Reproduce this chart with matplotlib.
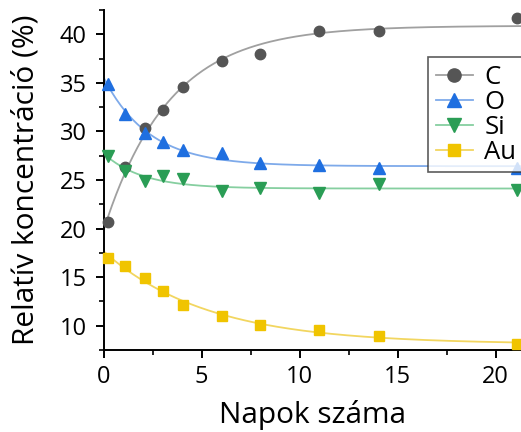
import numpy as np
import matplotlib
matplotlib.use('Agg')
import matplotlib.pyplot as plt
from matplotlib.ticker import MultipleLocator

plt.rcParams['font.family'] = ['Open Sans', 'DejaVu Sans']

# days of exposure
days = [0.25, 1.1, 2.1, 3.05, 4.05, 6.05, 8.0, 11.0, 14.05, 21.1]

# relative concentration (%)
c_vals = [20.7, 26.3, 30.4, 32.2, 34.6, 37.2, 38.0, 40.3, 40.3, 41.7]
o_vals = [34.9, 31.8, 29.8, 28.9, 28.1, 27.8, 26.7, 26.5, 26.2, 26.2]
si_vals = [27.5, 25.9, 24.9, 25.4, 25.1, 23.9, 24.2, 23.7, 24.6, 24.0]
au_vals = [16.95, 16.1, 14.9, 13.6, 12.1, 11.0, 10.1, 9.55, 8.95, 8.1]

labels = ['C', 'O', 'Si', 'Au']
markers = ['o', '^', 'v', 's']
marker_sizes = [7.5, 8.5, 8.5, 6.5]
marker_colors = ['#555555', '#1f6fe0', '#2a9d55', '#f0c400']
line_colors = ['#a0a0a0', '#7eaaea', '#86cfa0', '#f2d660']


def exp_fit(x, y):
    # y = a + b*exp(-x/t), scan t and solve a, b by least squares
    x = np.asarray(x)
    y = np.asarray(y)
    best = None
    for t in np.linspace(0.5, 20, 400):
        A = np.column_stack([np.ones_like(x), np.exp(-x / t)])
        coef, res, _, _ = np.linalg.lstsq(A, y, rcond=None)
        err = np.sum((A @ coef - y) ** 2)
        if best is None or err < best[0]:
            best = (err, coef, t)
    _, (a, b), t = best
    return lambda xx: a + b * np.exp(-xx / t)


fig = plt.figure(figsize=(5.21, 4.32), dpi=100)
ax = fig.add_axes([103.5 / 521, 1 - 350 / 432, 1 - 103.5 / 521, 340 / 432])

xs = np.linspace(0, 21.6, 300)
for vals, lab, m, ms, mc, lc in zip([c_vals, o_vals, si_vals, au_vals], labels,
                                     markers, marker_sizes, marker_colors, line_colors):
    f = exp_fit(days, vals)
    ax.plot(xs, f(xs), color=lc, lw=1.3, zorder=2)
    ax.plot(days, vals, linestyle='none', marker=m, ms=ms, color=mc, zorder=3, clip_on=False)
    # proxy handle for legend: line + marker
    ax.plot([], [], color=lc, lw=1.3, marker=m, ms=ms + 2, markerfacecolor=mc,
            markeredgecolor=mc, label=lab)

ax.set_xlim(0, 21.3)
ax.set_ylim(7.5, 42.5)
ax.xaxis.set_major_locator(MultipleLocator(5))
ax.xaxis.set_minor_locator(MultipleLocator(2.5))
ax.yaxis.set_major_locator(MultipleLocator(5))
ax.yaxis.set_minor_locator(MultipleLocator(2.5))

for side in ['top', 'right']:
    ax.spines[side].set_visible(False)
for side in ['left', 'bottom']:
    ax.spines[side].set_linewidth(1.4)

ax.tick_params(which='major', direction='out', length=6, width=1.4, labelsize=17)
ax.tick_params(axis='y', which='major', pad=6)
ax.tick_params(axis='x', which='major', pad=5)
ax.tick_params(which='minor', direction='out', length=3.5, width=1.2)

ax.set_xlabel('Napok száma', fontsize=21.5, labelpad=8)
ax.set_ylabel('Relatív koncentráció (%)', fontsize=21.5, labelpad=14)

leg = ax.legend(loc='upper left', bbox_to_anchor=(0.777, 0.862), fontsize=18.5,
                frameon=True, fancybox=False, edgecolor='#333333', handlelength=1.45,
                handletextpad=0.45, borderpad=0.3, labelspacing=0.0, borderaxespad=0)
leg.get_frame().set_linewidth(1.2)

fig.savefig('out.png', dpi=100)
